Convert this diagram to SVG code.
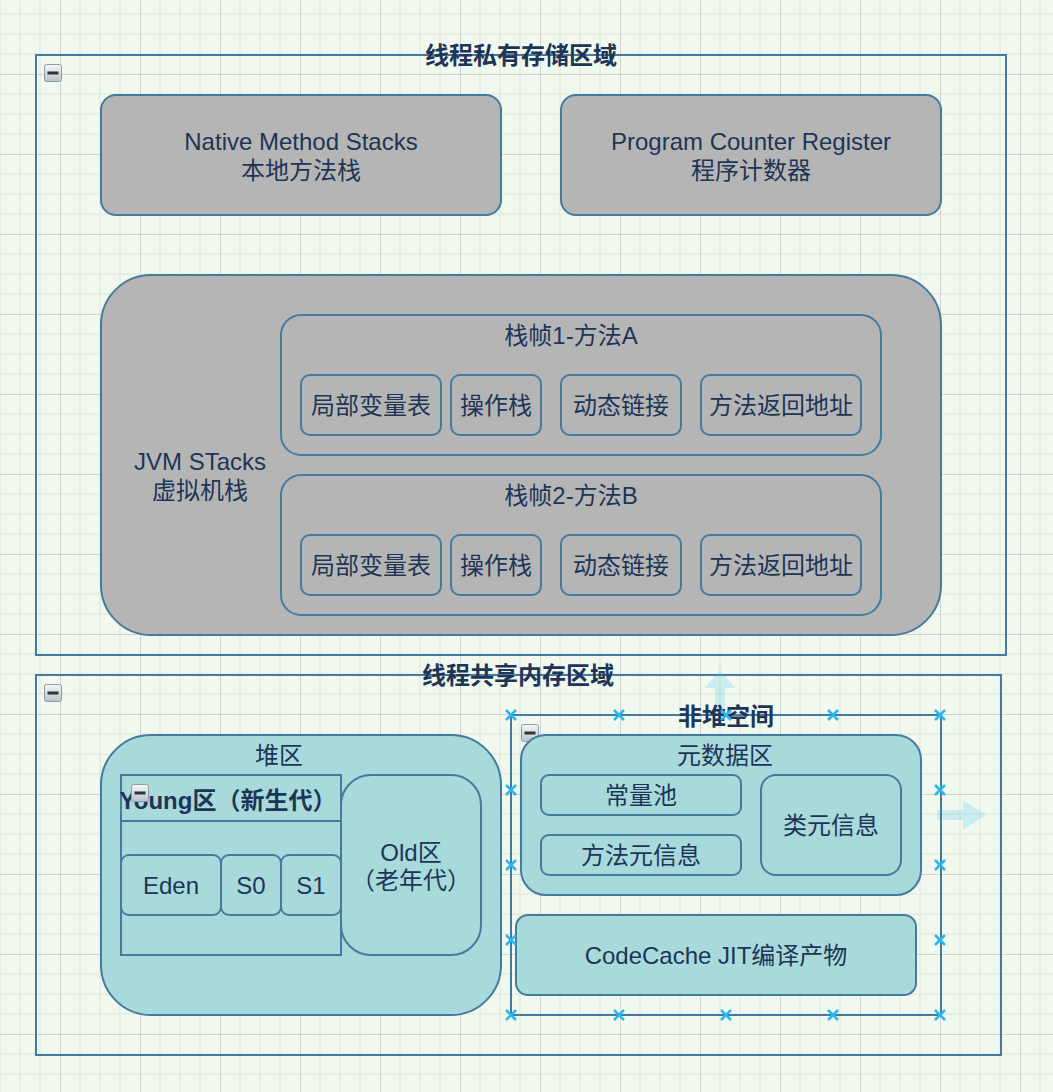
<svg xmlns="http://www.w3.org/2000/svg" width="1053" height="1092" viewBox="0 0 1053 1092">
<style>
.t{font-family:"Liberation Sans","Noto Sans CJK SC",sans-serif;font-size:24px;fill:#1d3557;text-anchor:middle}
.b{font-weight:bold}
.c{fill:none;stroke:#457b9d;stroke-width:2}
.g{fill:#b5b5b5;stroke:#457b9d;stroke-width:2}
.q{fill:#a8dadc;stroke:#457b9d;stroke-width:2}
.h{stroke:#29b6f2;stroke-width:2.5;fill:none}
</style>
<defs>
<pattern id="grid" width="80" height="80" patternUnits="userSpaceOnUse" x="60" y="-6">
<rect width="80" height="80" fill="#f1f9ef"/>
<path d="M20 0V80M40 0V80M60 0V80M0 20H80M0 40H80M0 60H80" stroke="#e7efe5" stroke-width="2"/>
<path d="M0.5 0V80M0 0.5H80" stroke="#d2d2d2" stroke-width="1"/>
</pattern>
<linearGradient id="ig" x1="0" y1="0" x2="0" y2="1">
<stop offset="0" stop-color="#f4f6f8"/><stop offset="1" stop-color="#b9c3cc"/>
</linearGradient>
<g id="minus">
<rect x="0.5" y="0.5" width="17" height="17" rx="2" fill="url(#ig)" stroke="#8a9bab"/>
<rect x="3.5" y="7.5" width="11" height="3" fill="#333"/>
</g>
<path id="hx" d="M-5 -5L5 5M-5 5L5 -5" class="h"/>
</defs>
<rect width="1053" height="1092" fill="url(#grid)"/>

<g id="private-area">
<rect class="c" x="36" y="55" width="970" height="600"/>
<text class="t b" x="521" y="64">线程私有存储区域</text>
<use href="#minus" x="44" y="64"/>
</g>
<g id="native-method-stacks">
<rect class="g" x="101" y="95" width="400" height="120" rx="15"/>
<text class="t" x="301" y="149.5">Native Method Stacks</text>
<text class="t" x="301" y="178.5">本地方法栈</text>
</g>
<g id="program-counter">
<rect class="g" x="561" y="95" width="380" height="120" rx="15"/>
<text class="t" x="751" y="149.5">Program Counter Register</text>
<text class="t" x="751" y="178.5">程序计数器</text>
</g>
<g id="jvm-stacks">
<rect class="g" x="101" y="275" width="840" height="360" rx="50"/>
<text class="t" x="200" y="469.5">JVM STacks</text>
<text class="t" x="200" y="498.5">虚拟机栈</text>
</g>
<g id="frame1">
<rect class="g" x="281" y="315" width="600" height="140" rx="20"/>
<text class="t" x="571" y="343.5">栈帧1-方法A</text>
</g>
<g id="f1-locals"><rect class="g" x="301" y="375" width="140" height="60" rx="9"/><text class="t" x="371" y="413.5">局部变量表</text></g>
<g id="f1-operand"><rect class="g" x="451" y="375" width="90" height="60" rx="9"/><text class="t" x="496" y="413.5">操作栈</text></g>
<g id="f1-dynlink"><rect class="g" x="561" y="375" width="120" height="60" rx="9"/><text class="t" x="621" y="413.5">动态链接</text></g>
<g id="f1-return"><rect class="g" x="701" y="375" width="160" height="60" rx="9"/><text class="t" x="781" y="413.5">方法返回地址</text></g>
<g id="frame2">
<rect class="g" x="281" y="475" width="600" height="140" rx="20"/>
<text class="t" x="571" y="503.5">栈帧2-方法B</text>
</g>
<g id="f2-locals"><rect class="g" x="301" y="535" width="140" height="60" rx="9"/><text class="t" x="371" y="573.5">局部变量表</text></g>
<g id="f2-operand"><rect class="g" x="451" y="535" width="90" height="60" rx="9"/><text class="t" x="496" y="573.5">操作栈</text></g>
<g id="f2-dynlink"><rect class="g" x="561" y="535" width="120" height="60" rx="9"/><text class="t" x="621" y="573.5">动态链接</text></g>
<g id="f2-return"><rect class="g" x="701" y="535" width="160" height="60" rx="9"/><text class="t" x="781" y="573.5">方法返回地址</text></g>

<g id="shared-area">
<rect class="c" x="36" y="675" width="965" height="380"/>
<text class="t b" x="518" y="684">线程共享内存区域</text>
<use href="#minus" x="44" y="684"/>
</g>
<g id="hover-arrows" fill="#29b6f2" opacity="0.18">
<path d="M720 670L735 688H725V715H715V688H705Z"/>
<path d="M986 815L963 800V810H937V820H963V830Z"/>
</g>
<g id="heap">
<rect class="q" x="101" y="735" width="400" height="280" rx="50"/>
<text class="t" x="279" y="763.5">堆区</text>
</g>
<g id="young">
<rect class="q" x="121" y="775" width="220" height="180"/>
<line class="c" x1="121" y1="821" x2="341" y2="821"/>
<text class="t b" x="228" y="808.5">Young区（新生代）</text>
<use href="#minus" x="131" y="784"/>
</g>
<g id="eden"><rect class="q" x="121" y="855" width="100" height="60" rx="8"/><text class="t" x="171" y="893.5">Eden</text></g>
<g id="s0"><rect class="q" x="221" y="855" width="60" height="60" rx="8"/><text class="t" x="251" y="893.5">S0</text></g>
<g id="s1"><rect class="q" x="281" y="855" width="60" height="60" rx="8"/><text class="t" x="311" y="893.5">S1</text></g>
<g id="old">
<rect class="q" x="341" y="775" width="140" height="180" rx="30"/>
<text class="t" x="411" y="860.5">Old区</text>
<text class="t" x="411" y="888.5">（老年代）</text>
</g>
<g id="non-heap">
<rect class="c" x="511" y="715" width="430" height="300"/>
<text class="t b" x="726" y="725">非堆空间</text>
<use href="#minus" x="521" y="724"/>
</g>
<g id="metaspace">
<rect class="q" x="521" y="735" width="400" height="160" rx="25"/>
<text class="t" x="725" y="763.5">元数据区</text>
</g>
<g id="constant-pool"><rect class="q" x="541" y="775" width="200" height="40" rx="8"/><text class="t" x="641" y="803.5">常量池</text></g>
<g id="method-meta"><rect class="q" x="541" y="835" width="200" height="40" rx="8"/><text class="t" x="641" y="863.5">方法元信息</text></g>
<g id="class-meta"><rect class="q" x="761" y="775" width="140" height="100" rx="15"/><text class="t" x="831" y="833.5">类元信息</text></g>
<g id="codecache"><rect class="q" x="516" y="915" width="400" height="80" rx="12"/><text class="t" x="716" y="963.5">CodeCache JIT编译产物</text></g>
<g id="connectors"></g>
<g id="selection-handles">
<use href="#hx" x="511" y="715"/><use href="#hx" x="619" y="715"/><use href="#hx" x="726" y="715"/><use href="#hx" x="833" y="715"/><use href="#hx" x="940" y="715"/>
<use href="#hx" x="511" y="1015"/><use href="#hx" x="619" y="1015"/><use href="#hx" x="726" y="1015"/><use href="#hx" x="833" y="1015"/><use href="#hx" x="940" y="1015"/>
<use href="#hx" x="511" y="790"/><use href="#hx" x="511" y="865"/><use href="#hx" x="511" y="940"/>
<use href="#hx" x="940" y="790"/><use href="#hx" x="940" y="865"/><use href="#hx" x="940" y="940"/>
</g>
</svg>
